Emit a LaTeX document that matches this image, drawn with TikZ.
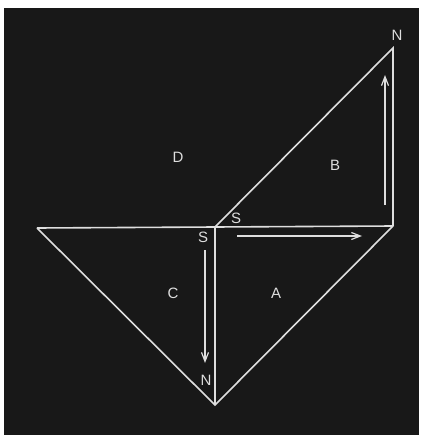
\documentclass[tikz,border=0pt]{standalone}
\usepackage{fontspec}
\setmainfont{Liberation Sans}
\usetikzlibrary{arrows.meta}
\definecolor{board}{RGB}{24,24,24}
\definecolor{chalk}{RGB}{222,222,222}
\begin{document}
\begin{tikzpicture}[x=1pt,y=-1pt,
  edge/.style={draw=chalk,line width=1.6pt},
  motion/.style={draw=chalk,line width=1.2pt,-{Straight Barb[length=9pt,width=7pt]}},
  lbl/.style={text=chalk,font=\fontsize{15}{15}\selectfont,inner sep=0pt}]
\useasboundingbox (0,0) rectangle (423,441);
\fill[white] (0,0) rectangle (423,441);
\fill[board] (4,8) rectangle (419,435);
% vertices
\coordinate (O) at (215,227);
\coordinate (L) at (37,228);
\coordinate (Bt) at (215,405);
\coordinate (R) at (393,226);
\coordinate (T) at (393,48);
% triangles
\draw[edge] (L) -- (R);
\draw[edge] (O) -- (Bt);
\draw[edge] (L) -- (Bt) -- (R);
\draw[edge] (O) -- (T) -- (R);
% motion arrows
\coordinate (h1) at (237,236); \coordinate (h2) at (362,236);
\coordinate (u1) at (385,205); \coordinate (u2) at (385,75);
\coordinate (d1) at (205,250); \coordinate (d2) at (205,363);
\draw[motion] (h1) -- (h2);
\draw[motion] (u1) -- (u2);
\draw[motion] (d1) -- (d2);
% labels
\node[lbl] (nT) at (397,35) {N};
\node[lbl] (s1) at (236,218) {S};
\node[lbl] (s2) at (203,237) {S};
\node[lbl] (nB) at (206,380) {N};
\node[lbl] (lD) at (178,157) {D};
\node[lbl] (lB) at (335,165) {B};
\node[lbl] (lC) at (173,293) {C};
\node[lbl] (lA) at (276,293) {A};
\end{tikzpicture}
\end{document}
